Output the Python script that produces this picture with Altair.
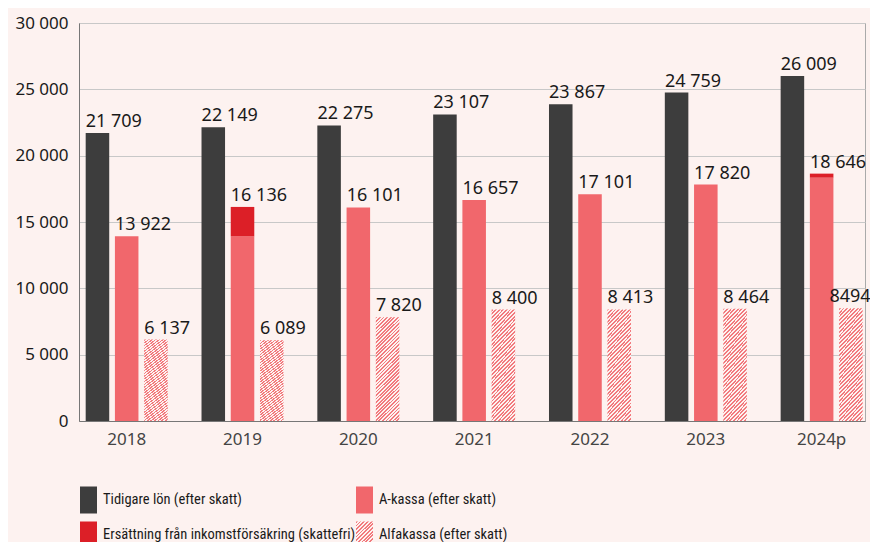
import altair as alt
import pandas as pd

years = ["2018", "2019", "2020", "2021", "2022", "2023", "2024p"]
tidigare = [21709, 22149, 22275, 23107, 23867, 24759, 26009]
akassa = [13922, 13922, 16101, 16657, 17101, 17820, 18346]
inkomst = [0, 2214, 0, 0, 0, 0, 300]
alfa = [6137, 6089, 7820, 8400, 8413, 8464, 8494]
label_tidigare = ["21 709", "22 149", "22 275", "23 107", "23 867", "24 759", "26 009"]
label_akassa = ["13 922", "16 136", "16 101", "16 657", "17 101", "17 820", "18 646"]
label_alfa = ["6 137", "6 089", "7 820", "8 400", "8 413", "8 464", "8494"]
y_ticks = [0, 5000, 10000, 15000, 20000, 25000, 30000]
series = [
    "Tidigare lön (efter skatt)",
    "A-kassa (efter skatt)",
    "Ersättning från inkomstförsäkring (skattefri)",
    "Alfakassa (efter skatt)",
]
legend_col = [0, 1, 0, 1]
legend_row = [0, 0, 1, 1]
colors = ["#3d3d3d", "#f1676c", "#dc1f27"]
hatch_color = "#f27a7e"
bg = "#fdf2f0"

# ---- tables ----
bar_rows, label_rows = [], []
for i, yr in enumerate(years):
    bar_rows.append(dict(year=yr, slot="a", series=series[0], y0=0, y1=tidigare[i]))
    bar_rows.append(dict(year=yr, slot="b", series=series[1], y0=0, y1=akassa[i]))
    if inkomst[i] > 0:
        bar_rows.append(dict(year=yr, slot="b", series=series[2], y0=akassa[i], y1=akassa[i] + inkomst[i]))
    label_rows.append(dict(year=yr, slot="a", top=tidigare[i], text=label_tidigare[i]))
    label_rows.append(dict(year=yr, slot="b", top=akassa[i] + inkomst[i], text=label_akassa[i]))
    label_rows.append(dict(year=yr, slot="c", top=alfa[i], text=label_alfa[i]))
bars = pd.DataFrame(bar_rows)
hatched = pd.DataFrame(dict(year=years, slot=["c"] * len(years), y0=[0] * len(years), y1=alfa))
labels = pd.DataFrame(label_rows)

# legend layout (pixels relative to the plot area)
LEG_X0, LEG_DX, LEG_Y0, LEG_DY, TXT_DX = 9.5, 276, 477, 35, 14.5
leg = pd.DataFrame(dict(
    name=series,
    px=[LEG_X0 + c * LEG_DX for c in legend_col],
    py=[LEG_Y0 + r * LEG_DY for r in legend_row],
    kind=["s", "s", "s", "h"],
))


def stripes(w, h, period):
    L = w + h
    n = int(round(L / period))
    k = L / (w * w + h * h)
    stops = []
    for j in range(n):
        a = j / n
        m = (j + 0.5) / n
        b = (j + 1) / n
        stops += [
            alt.GradientStop(offset=a, color=hatch_color),
            alt.GradientStop(offset=m, color=hatch_color),
            alt.GradientStop(offset=m, color=bg),
            alt.GradientStop(offset=b, color=bg),
        ]
    return alt.LinearGradient(gradient="linear", stops=stops, x1=0, y1=0, x2=w * k, y2=h * k)


W, H = 786, 398
BAR_HALF = 11.7
xscale = alt.Scale(paddingInner=0.292, paddingOuter=0.039, align=0.74)
yscale = alt.Scale(domain=[0, 30000])
xoff = alt.XOffset("slot:N", scale=alt.Scale(domain=["a", "b", "c"], paddingInner=0.195, paddingOuter=0))

x_enc = alt.X(
    "year:N", sort=years, scale=xscale,
    axis=alt.Axis(title=None, labelAngle=0, ticks=False, domainColor="#777777", labelColor="#444444",
                  labelFontSize=17, labelPadding=10, grid=False),
)
y_enc = alt.Y(
    "y1:Q", scale=yscale,
    axis=alt.Axis(title=None, values=y_ticks, format=",d", labelExpr="replace(datum.label, ',', ' ')",
                  ticks=False, domainColor="#777777", gridColor="#c8c8c8", labelColor="#1a1a1a",
                  labelFontSize=17, labelPadding=11),
)

solid = alt.Chart(bars).mark_bar().encode(
    x=x_enc, xOffset=xoff, y=y_enc, y2="y0:Q",
    color=alt.Color("series:N", scale=alt.Scale(domain=series[:3], range=colors), legend=None),
)
hatch = alt.Chart(hatched).mark_bar(color=stripes(23.5, 105, 3.6)).encode(
    x=alt.X("year:N", sort=years), xOffset=xoff, y=alt.Y("y1:Q"), y2="y0:Q"
)
last_test = f"datum.year == '{years[-1]}' && datum.slot == 'c'"
text = alt.Chart(labels).transform_filter(f"!({last_test})").mark_text(
    align="left", baseline="bottom", dx=-BAR_HALF, dy=-2, fontSize=18, font="Noto Sans", color="#1a1a1a"
).encode(x=alt.X("year:N", sort=years), xOffset=xoff, y=alt.Y("top:Q"), text="text:N")
# the right-most label would run past the page edge: end it at the page edge instead
text_last = alt.Chart(labels).transform_filter(last_test).mark_text(
    align="right", baseline="bottom", dx=BAR_HALF + 8, dy=-2, fontSize=18, font="Noto Sans", color="#1a1a1a"
).encode(x=alt.X("year:N", sort=years), xOffset=xoff, y=alt.Y("top:Q"), text="text:N")

# ---- legend ----
lx = alt.X("px:Q", scale=None, axis=None)
ly = alt.Y("py:Q", scale=None, axis=None)
rect_shape = "M-0.63,-1L0.63,-1L0.63,1L-0.63,1Z"
leg_solid = alt.Chart(leg).transform_filter("datum.kind == 's'").mark_point(
    shape=rect_shape, size=729, filled=True, opacity=1, strokeWidth=0
).encode(
    x=lx, y=ly,
    fill=alt.Fill("name:N", scale=alt.Scale(domain=series[:3], range=colors), legend=None),
)
leg_hatch = alt.Chart(leg).transform_filter("datum.kind == 'h'").mark_point(
    shape=rect_shape, size=729, filled=True, opacity=1, strokeWidth=0, fill=stripes(17, 27, 3.6)
).encode(x=lx, y=ly)
leg_text = alt.Chart(leg).mark_text(
    align="left", baseline="middle", dx=TXT_DX, fontSize=14.5,
    font="'Roboto Condensed', 'Noto Sans Condensed', 'Noto Sans ExtraCondensed', 'DejaVu Sans Condensed', 'Liberation Sans Narrow', 'Open Sans Condensed', sans-serif",
    color="#1a1a1a",
).encode(x=lx, y=ly, text="name:N")

chart = alt.layer(solid, hatch, text, text_last, leg_solid, leg_hatch, leg_text).properties(
    width=W, height=H,
    autosize=alt.AutoSizeParams(type="none"),
    padding={"left": 71, "top": 15, "right": 5, "bottom": 121},
    view=alt.ViewBackground(stroke="#aaaaaa"),
).configure(background=bg, font="Noto Sans")

chart.save("out.html", embed_options={"renderer": "svg", "actions": False})
